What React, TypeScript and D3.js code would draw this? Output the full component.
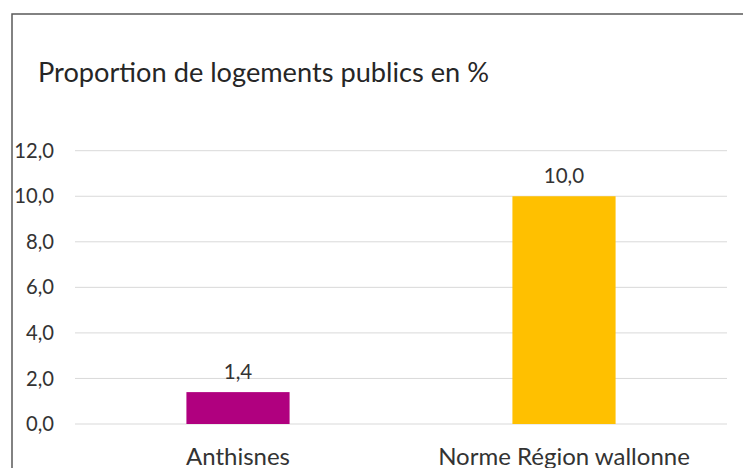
import React from "react";
import * as d3 from "d3";

const categories = ["Anthisnes", "Norme Région wallonne"];
const values = [1.4, 10.0];
const barColors = ["#B0007F", "#FFC000"];
const yTicks = [0, 2, 4, 6, 8, 10, 12];
const title = "Proportion de logements publics en %";

const W = 743;
const H = 468;
const FONT = "Lato, 'Open Sans', sans-serif";

const fmt = (v: number) => v.toFixed(1).replace(".", ",");

export default function App() {
  const x = d3
    .scaleBand<string>()
    .domain(categories)
    .range([75, 727])
    .paddingInner(2.16 / 3.16)
    .paddingOuter(1.08 / 3.16);
  const y = d3.scaleLinear().domain([0, 12]).range([424, 150.7]);

  return (
    <svg
      width={W}
      height={H}
      style={{ position: "absolute", left: 0, top: 0, background: "#fff" }}
      fontFamily={FONT}
    >
      <rect x={0} y={0} width={W} height={H} fill="#fff" />
      <path d={`M12,${H + 2}V14H${W + 2}`} fill="none" stroke="#5a5a5a" strokeWidth={1.5} />
      <text x={38} y={82} fontSize={27.2} fill="#262626">
        {title}
      </text>
      {yTicks.map((t) => (
        <g key={t}>
          <line x1={75} x2={727} y1={y(t)} y2={y(t)} stroke="#D9D9D9" strokeWidth={1} />
          <text
            x={54}
            y={y(t)}
            dy="0.35em"
            textAnchor="end"
            fontSize={20.2}
            fill="#333333"
          >
            {fmt(t)}
          </text>
        </g>
      ))}
      {categories.map((c, i) => (
        <g key={c}>
          <rect
            x={x(c)}
            y={y(values[i])}
            width={x.bandwidth()}
            height={y(0) - y(values[i])}
            fill={barColors[i]}
          />
          <text
            x={(x(c) as number) + x.bandwidth() / 2}
            y={y(values[i]) - 13}
            textAnchor="middle"
            fontSize={20.5}
            fill="#333333"
          >
            {fmt(values[i])}
          </text>
          <text
            x={(x(c) as number) + x.bandwidth() / 2}
            y={465}
            textAnchor="middle"
            fontSize={24}
            fill="#333333"
          >
            {c}
          </text>
        </g>
      ))}
    </svg>
  );
}
